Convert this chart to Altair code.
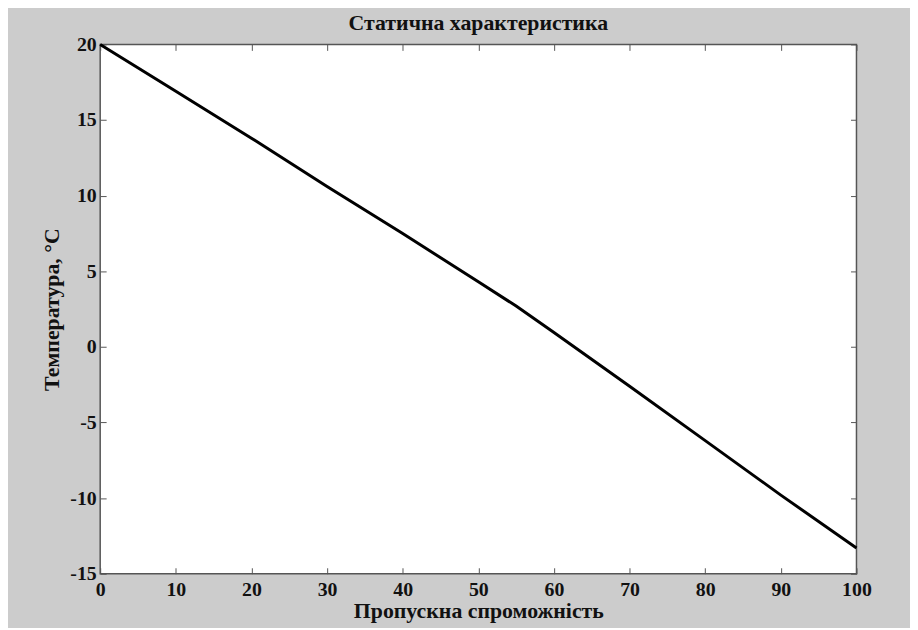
import altair as alt
import pandas as pd

# Data
flow = [0, 10, 20, 30, 40, 50, 55, 60, 70, 80, 90, 100]
temp = [20.0, 16.9, 13.8, 10.6, 7.5, 4.3, 2.7, 0.95, -2.6, -6.2, -9.8, -13.3]

x_ticks = [0, 10, 20, 30, 40, 50, 60, 70, 80, 90, 100]
y_ticks = [-15, -10, -5, 0, 5, 10, 15, 20]

df = pd.DataFrame({"flow": flow, "temp": temp})

FONT = "Liberation Serif"
FRAME = "#555555"

xscale = alt.Scale(domain=[0, 100], nice=False, zero=False)
yscale = alt.Scale(domain=[-15, 20], nice=False, zero=False)

common_axis = dict(
    domain=False, grid=False, tickColor=FRAME, tickSize=6, tickWidth=1,
    offset=-6, labelFont=FONT, labelFontWeight="bold", labelFontSize=20,
    labelColor="#111111", titleFont=FONT, titleFontWeight="bold",
    titleFontSize=22, titleColor="#111111", labelExpr="'' + datum.value",
)

main = alt.Chart(df).mark_line(color="black", strokeWidth=3).encode(
    x=alt.X("flow:Q", scale=xscale,
            axis=alt.Axis(orient="bottom", values=x_ticks, title="Пропускна спроможність",
                          labelPadding=6, titlePadding=1, labelFlush=False, **common_axis)),
    y=alt.Y("temp:Q", scale=yscale,
            axis=alt.Axis(orient="left", values=y_ticks, title="Температура, °C",
                          labelPadding=4, titlePadding=6, labelFlush=False, **common_axis)),
)

frame_axes = alt.Chart(df).mark_line(opacity=0).encode(
    x=alt.X("flow:Q", scale=xscale,
            axis=alt.Axis(orient="top", values=x_ticks, title=None, labels=False, **common_axis)),
    y=alt.Y("temp:Q", scale=yscale,
            axis=alt.Axis(orient="right", values=y_ticks, title=None, labels=False, **common_axis)),
)

chart = (
    alt.layer(main, frame_axes)
    .resolve_axis(x="independent", y="independent")
    .properties(
        width=763, height=534,
        title=alt.TitleParams("Статична характеристика", font=FONT, fontWeight="bold",
                              fontSize=22, color="#111111", offset=0),
        autosize=alt.AutoSizeParams(type="none"),
        padding={"left": 93, "top": 34, "right": 54, "bottom": 52},
    )
    .configure(background="#cccccc")
    .configure_view(fill="white", stroke=FRAME, strokeWidth=1.5)
)

chart.save("out.html", embed_options={"renderer": "svg", "actions": False})
